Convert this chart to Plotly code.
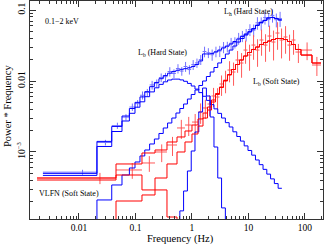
import plotly.graph_objects as go

# ---------------- Hard state (blue) ----------------
hard_edges = [0.0023, 0.0208, 0.038, 0.0577, 0.078, 0.098, 0.12, 0.146, 0.178, 0.216,
              0.26, 0.31, 0.37, 0.44, 0.52, 0.61, 0.71, 0.83, 0.97, 1.13, 1.32, 1.54,
              1.8, 2.1, 2.45, 2.86, 3.34, 3.9, 4.55, 5.3, 6.2, 7.2, 8.4, 9.8, 11.4,
              13.3, 15.5, 18.1, 21.1, 24.6, 28.7, 33.5, 39.0]
hard_total = [5.0e-4, 1.41e-3, 2.29e-3, 3.21e-3, 4.10e-3, 5.00e-3, 5.97e-3, 7.08e-3,
              8.32e-3, 9.54e-3, 1.078e-2, 1.192e-2, 1.289e-2, 1.364e-2, 1.417e-2,
              1.461e-2, 1.492e-2, 1.536e-2, 1.599e-2, 1.707e-2, 1.917e-2, 2.405e-2,
              2.40e-2, 2.45e-2, 2.56e-2, 2.73e-2, 2.92e-2, 3.11e-2, 3.32e-2,
              3.6e-2, 3.9e-2, 4.25e-2, 4.6e-2, 5.005e-2, 5.49e-2, 6.127e-2,
              6.736e-2, 7.167e-2, 7.759e-2, 7.882e-2, 7.626e-2, 7.261e-2]
hard_Lb = [4.68e-4, 1.196e-3, 1.943e-3, 2.733e-3, 3.508e-3, 4.276e-3, 5.093e-3, 6.01e-3,
           7.022e-3, 8.02e-3, 8.96e-3, 9.74e-3, 1.033e-2, 1.063e-2, 1.063e-2, 1.036e-2,
           9.9e-3, 9.25e-3, 8.5e-3, 7.69e-3, 6.86e-3, 6.09e-3, 5.33e-3, 4.65e-3, 4.05e-3,
           3.5e-3, 3.01e-3, 2.59e-3, 2.25e-3, 1.925e-3, 1.653e-3, 1.424e-3, 1.219e-3,
           1.05e-3, 9.02e-4, 7.72e-4, 6.63e-4, 5.69e-4, 4.88e-4, 4.18e-4, 3.59e-4, 3.08e-4]
hard_Lh = [5e-5, 2.11e-4, 3.43e-4, 4.74e-4, 5.95e-4, 7.23e-4, 8.79e-4, 1.067e-3, 1.297e-3,
           1.524e-3, 1.823e-3, 2.178e-3, 2.56e-3, 3.01e-3, 3.54e-3, 4.1e-3, 4.74e-3,
           5.57e-3, 6.46e-3, 7.47e-3, 8.65e-3, 1.0e-2, 1.157e-2, 1.339e-2, 1.549e-2,
           1.794e-2, 2.075e-2, 2.4e-2, 2.73e-2, 3.11e-2, 3.54e-2, 3.97e-2, 4.45e-2,
           4.9e-2, 5.4e-2, 6.05e-2, 6.67e-2, 7.11e-2, 7.71e-2, 7.84e-2, 7.59e-2, 7.23e-2]
hard_qpo = [None, None, None, None, None, None, None, None, None, None, None, None,
            None, None, 5e-5, 1.48e-4, 2.82e-4, 5.4e-4, 1.033e-3, 1.913e-3, 3.66e-3,
            7.96e-3, 6.15e-3, 3.11e-3, 1.176e-3, 4.3e-4, 1.63e-4, 5e-5, None, None,
            None, None, None, None, None, None, None, None, None, None, None, None]
hard_data = [5.2e-4, 1.36e-3, 2.35e-3, 3.1e-3, 4.3e-3, 4.8e-3, 6.3e-3, 6.9e-3, 8.8e-3,
             9.3e-3, 1.12e-2, 1.15e-2, 1.36e-2, 1.28e-2, 1.5e-2, 1.38e-2, 1.6e-2, 1.45e-2,
             1.7e-2, 1.8e-2, 2.0e-2, 2.6e-2, 2.5e-2, 2.35e-2, 2.6e-2, 2.65e-2, 3.0e-2,
             3.05e-2, 3.4e-2, 3.5e-2, 4.0e-2, 4.3e-2, 4.5e-2, 5.3e-2, 5.2e-2, 6.6e-2,
             6.5e-2, 7.8e-2, 7.4e-2, 8.4e-2, 7.3e-2, 7.6e-2]
hard_rel_err = [0.08, 0.09, 0.1, 0.1, 0.12, 0.12, 0.13, 0.12, 0.14, 0.13, 0.14, 0.13,
                0.15, 0.14, 0.15, 0.14, 0.16, 0.15, 0.16, 0.15, 0.16, 0.17, 0.16, 0.18,
                0.17, 0.18, 0.18, 0.17, 0.19, 0.18, 0.19, 0.18, 0.2, 0.19, 0.2, 0.2,
                0.21, 0.2, 0.22, 0.21, 0.22, 0.24]

# ---------------- Soft state (red) ----------------
soft_edges = [0.00181, 0.0452, 0.1303, 0.2215, 0.361, 0.543, 0.752, 1.0, 1.277, 1.566,
              1.88, 2.213, 2.606, 3.067, 3.61, 4.249, 5.0, 5.89, 6.93, 8.16, 9.6, 11.3,
              13.3, 15.66, 18.43, 21.69, 25.53, 30.05, 35.37, 41.63, 49.0, 57.7, 67.9,
              85.0, 133.0, 192.0]
soft_total = [4.30e-4, 6.78e-4, 9.68e-4, 1.067e-3, 1.383e-3, 1.627e-3, 1.976e-3, 2.40e-3,
              2.92e-3, 3.54e-3, 4.30e-3, 5.40e-3, 6.67e-3, 8.23e-3, 1.016e-2, 1.235e-2,
              1.452e-2, 1.708e-2, 1.976e-2, 2.25e-2, 2.52e-2, 2.78e-2, 3.01e-2, 3.27e-2,
              3.48e-2, 3.66e-2, 3.84e-2, 3.97e-2, 3.97e-2, 3.84e-2, 3.60e-2, 3.27e-2,
              2.78e-2, 2.32e-2, 1.793e-2]
soft_Lb = [3.4e-5, 2.04e-4, 2.48e-4, 4.30e-4, 6.78e-4, 1.0e-3, 1.383e-3, 1.793e-3,
           2.32e-3, 3.01e-3, 3.90e-3, 5.06e-3, 6.45e-3, 8.10e-3, 1.0e-2, 1.215e-2,
           1.452e-2, 1.708e-2, 1.976e-2, 2.25e-2, 2.52e-2, 2.78e-2, 3.01e-2, 3.27e-2,
           3.48e-2, 3.66e-2, 3.84e-2, 3.97e-2, 3.97e-2, 3.84e-2, 3.60e-2, 3.27e-2,
           2.78e-2, 2.32e-2, 1.793e-2]
soft_vlfn = [4.03e-4, 4.74e-4, 2.92e-4, 2.92e-4, 1.214e-4, 3e-5, None, None, None, None,
             None, None, None, None, None, None, None, None, None, None, None, None,
             None, None, None, None, None, None, None, None, None, None, None, None, None]
soft_data = [4.30e-4, 5.58e-4, 7.0e-4, 1.0e-3, 1.255e-3, 2.18e-3, 2.40e-3, 2.64e-3,
             3.66e-3, 4.17e-3, 4.74e-3, 6.15e-3, 5.95e-3, 9.07e-3, 1.033e-2, 1.429e-2,
             1.339e-2, 1.976e-2, 1.793e-2, 2.73e-2, 2.32e-2, 3.21e-2, 2.73e-2, 3.78e-2,
             3.21e-2, 4.30e-2, 3.54e-2, 4.74e-2, 3.78e-2, 4.17e-2, 3.21e-2, 3.78e-2,
             2.56e-2, 2.73e-2, 1.680e-2]
soft_rel_err = [0.18, 0.25, 0.25, 0.28, 0.3, 0.3, 0.3, 0.3, 0.32, 0.3, 0.32, 0.3, 0.33,
                0.32, 0.35, 0.33, 0.36, 0.34, 0.38, 0.36, 0.4, 0.38, 0.42, 0.4, 0.42,
                0.4, 0.45, 0.42, 0.45, 0.42, 0.4, 0.38, 0.3, 0.28, 0.3]

x_tickvals = [0.01, 0.1, 1, 10, 100]
x_ticktext = ["0.01", "0.1", "1", "10", "100"]
y_tickvals = [0.001, 0.01, 0.1]
y_ticktext = ["10<sup>−3</sup>", "0.01", "0.1"]

BLUE = "#0000ff"
BLUE_D = "#7373ff"
RED = "#ff0000"
RED_D = "#ff5a5a"
FONT = "Liberation Serif"


def step_xy(edges, vals):
    return list(edges), list(vals) + [vals[-1]]


def data_trace(edges, vals, rel, color):
    lo = edges[:-1]
    hi = edges[1:]
    cen = [(a + b) / 2 for a, b in zip(lo, hi)]
    return go.Scatter(
        x=cen, y=vals, mode="markers",
        marker=dict(size=1, color=color),
        error_x=dict(type="data", symmetric=False,
                     array=[h - c for h, c in zip(hi, cen)],
                     arrayminus=[c - l for c, l in zip(cen, lo)],
                     color=color, thickness=1, width=0),
        error_y=dict(type="data", symmetric=True,
                     array=[v * r for v, r in zip(vals, rel)],
                     color=color, thickness=1, width=0),
        showlegend=False, hoverinfo="skip")


def model_trace(edges, vals, color, width=1.0):
    x, y = step_xy(edges, vals)
    return go.Scatter(x=x, y=y, mode="lines", line=dict(color=color, width=width, shape="hv"),
                      showlegend=False, hoverinfo="skip")


fig = go.Figure()
fig.add_trace(data_trace(hard_edges, hard_data, hard_rel_err, BLUE_D))
fig.add_trace(data_trace(soft_edges, soft_data, soft_rel_err, RED_D))
fig.add_trace(model_trace(hard_edges, hard_Lb, BLUE))
fig.add_trace(model_trace(hard_edges, hard_Lh, BLUE))
fig.add_trace(model_trace(hard_edges, hard_qpo, BLUE))
fig.add_trace(model_trace(hard_edges, hard_total, BLUE))
fig.add_trace(model_trace(soft_edges, soft_vlfn, RED))
fig.add_trace(model_trace(soft_edges, soft_Lb, RED))
fig.add_trace(model_trace(soft_edges, soft_total, RED))

x_minor = [m * 10 ** k for k in range(-3, 3) for m in range(2, 10)]
y_minor = [m * 10 ** k for k in range(-4, 0) for m in range(2, 10)]

axis_common = dict(type="log", showgrid=False, zeroline=False, showline=True,
                   linecolor="#333", linewidth=1, mirror="allticks", ticks="inside",
                   ticklen=6, tickcolor="#333", tickwidth=1, automargin=False,
                   tickfont=dict(family=FONT, size=9.5, color="black"))

fig.update_xaxes(range=[-2.867, 2.319], tickmode="array", tickvals=x_tickvals,
                 ticktext=x_ticktext,
                 minor=dict(tickmode="array", tickvals=x_minor, ticks="inside", ticklen=3,
                            tickcolor="#333", showgrid=False),
                 **axis_common)
fig.update_yaxes(range=[-3.944, -0.873], tickmode="array", tickvals=y_tickvals,
                 ticktext=y_ticktext, tickangle=-90,
                 minor=dict(tickmode="array", tickvals=y_minor, ticks="inside", ticklen=3,
                            tickcolor="#333", showgrid=False),
                 **axis_common)

W, H = 325, 244
L, R, T, B = 30, 2, 1, 25
pw, ph = W - L - R, H - T - B


def px(x):
    return (x - L) / pw


def py(y):
    return (H - B - y) / ph


ann_font = dict(family=FONT, size=8, color="black")
annotations = [
    dict(text="0.1−2 keV", x=px(43), y=py(22), xanchor="left", yanchor="middle", font=ann_font),
    dict(text="L<sub>h</sub> (Hard State)", x=px(248), y=py(12), xanchor="center", yanchor="middle", font=ann_font),
    dict(text="L<sub>b</sub> (Hard State)", x=px(162), y=py(53), xanchor="center", yanchor="middle", font=ann_font),
    dict(text="L<sub>b</sub> (Soft State)", x=px(276), y=py(82), xanchor="center", yanchor="middle", font=ann_font),
    dict(text="VLFN (Soft State)", x=px(69), y=py(193), xanchor="center", yanchor="middle", font=ann_font),
    dict(text="Frequency (Hz)", x=px(180), y=py(238.5), xanchor="center", yanchor="middle",
         font=dict(family=FONT, size=10.5, color="black")),
    dict(text="Power * Frequency", x=px(7), y=py(106), xanchor="center", yanchor="middle",
         textangle=-90, font=dict(family=FONT, size=10.5, color="black")),
]
for a in annotations:
    a.update(xref="paper", yref="paper", showarrow=False)

fig.update_layout(template="none", width=W, height=H,
                  margin=dict(l=L, r=R, t=T, b=B, autoexpand=False),
                  paper_bgcolor="white", plot_bgcolor="white",
                  annotations=annotations, showlegend=False)

fig.write_html("out.html", config={"displayModeBar": False, "staticPlot": True},
               post_script="document.body.style.margin='0px';document.body.style.overflow='hidden';")
